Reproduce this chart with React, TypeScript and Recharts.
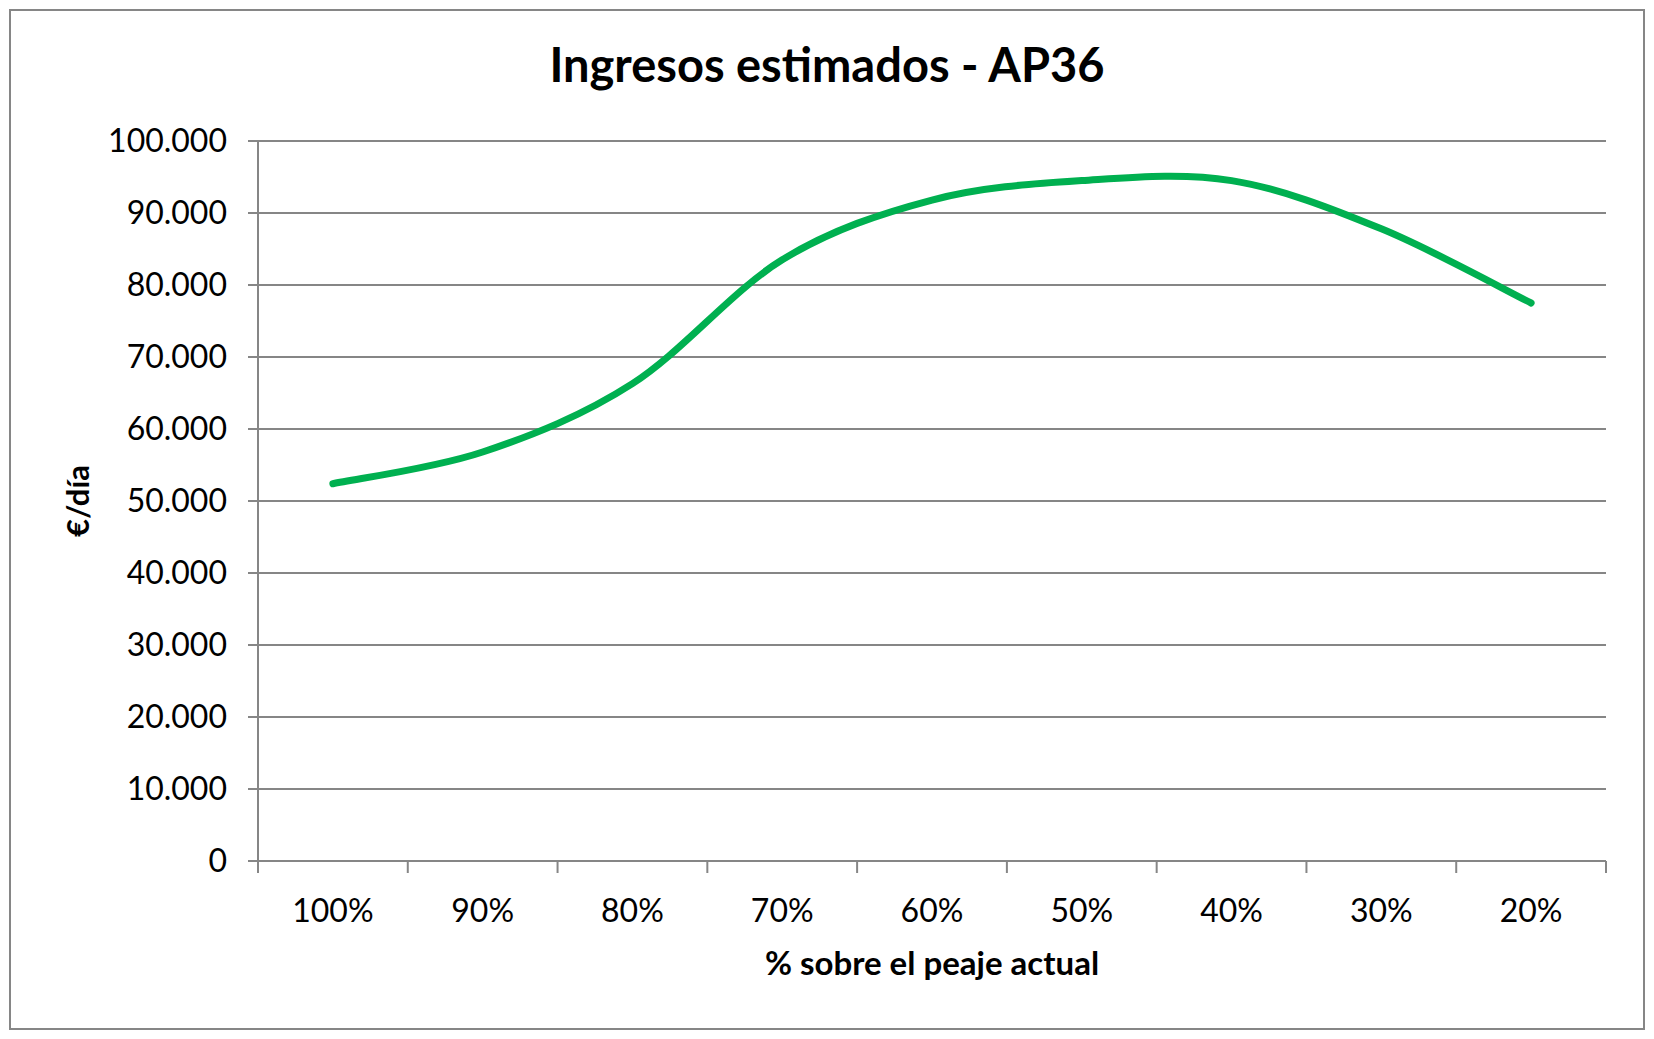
import React from "react";
import {
    CartesianGrid,
    Label,
    Line,
    LineChart,
    XAxis,
    YAxis,
} from "recharts";

const categories = ["100%", "90%", "80%", "70%", "60%", "50%", "40%", "30%", "20%"];
const ingresos = [52400, 56800, 66300, 83500, 91800, 94500, 94500, 87800, 77500];
const yTicks = [0, 10000, 20000, 30000, 40000, 50000, 60000, 70000, 80000, 90000, 100000];

const data = categories.map((cat, i) => ({ cat, v: ingresos[i] }));

const FONT = "Lato, 'Open Sans', sans-serif";
const GRID = "#868686";
const TICK_MARGIN = 38;
const TICK_LEN = 12;

const fmt = (v: number) => String(v).replace(/\B(?=(\d{3})+(?!\d))/g, ".");

/** Excel-style smoothed line (Catmull-Rom as cubic Bezier). */
const excelCurve = (context: any) => {
    let pts: [number, number][] = [];
    return {
        areaStart() {},
        areaEnd() {},
        lineStart() {
            pts = [];
        },
        point(x: number, y: number) {
            pts.push([+x, +y]);
        },
        lineEnd() {
            const n = pts.length;
            if (!n) return;
            context.moveTo(pts[0][0], pts[0][1]);
            for (let i = 0; i < n - 1; i++) {
                const p0 = pts[Math.max(i - 1, 0)];
                const p1 = pts[i];
                const p2 = pts[i + 1];
                const p3 = pts[Math.min(i + 2, n - 1)];
                context.bezierCurveTo(
                    p1[0] + (p2[0] - p0[0]) / 6,
                    p1[1] + (p2[1] - p0[1]) / 6,
                    p2[0] - (p3[0] - p1[0]) / 6,
                    p2[1] - (p3[1] - p1[1]) / 6,
                    p2[0],
                    p2[1]
                );
            }
        },
    };
};

// Category label centred in its band, with Excel-style tick marks on the band edges.
const CategoryTick = (props: any) => {
    const { x, y, payload, index, visibleTicksCount } = props;
    const half = payload?.offset ?? 0;
    const top = y - TICK_MARGIN;
    const isLast = index === (visibleTicksCount ?? categories.length) - 1;
    return (
        <g>
            <line x1={x - half} x2={x - half} y1={top} y2={top + TICK_LEN} stroke={GRID} strokeWidth={2} />
            {isLast && (
                <line x1={x + half} x2={x + half} y1={top} y2={top + TICK_LEN} stroke={GRID} strokeWidth={2} />
            )}
            <text
                x={x}
                y={y}
                dy="0.71em"
                textAnchor="middle"
                style={{ fill: "#000", fontSize: 32, fontFamily: FONT }}
            >
                {payload.value}
            </text>
        </g>
    );
};

export default function App() {
    return (
        <div
            style={{
                position: "absolute",
                left: 0,
                top: 0,
                width: 1654,
                height: 1039,
                background: "#fff",
                fontFamily: FONT,
            }}
        >
            <div
                style={{
                    position: "absolute",
                    left: 9,
                    top: 9,
                    width: 1636,
                    height: 1021,
                    border: `2px solid ${GRID}`,
                    boxSizing: "border-box",
                }}
            />
            <div
                style={{
                    position: "absolute",
                    left: 0,
                    top: 41,
                    width: 1654,
                    textAlign: "center",
                    fontSize: 47,
                    lineHeight: "47px",
                    fontWeight: 700,
                    color: "#000",
                }}
            >
                Ingresos estimados - AP36
            </div>
            <LineChart
                width={1654}
                height={1039}
                data={data}
                margin={{ top: 141, right: 48, bottom: 98, left: 158 }}
                style={{ position: "absolute", left: 0, top: 0 }}
            >
                <CartesianGrid vertical={false} stroke={GRID} strokeWidth={2} />
                <XAxis
                    dataKey="cat"
                    type="category"
                    scale="band"
                    height={80}
                    axisLine={{ stroke: GRID, strokeWidth: 2 }}
                    tickLine={false}
                    tickSize={0}
                    tickMargin={TICK_MARGIN}
                    interval={0}
                    tick={<CategoryTick />}
                >
                    <Label
                        value="% sobre el peaje actual"
                        position="insideBottom"
                        offset={-34}
                        style={{ fill: "#000", fontSize: 33, fontWeight: 700, fontFamily: FONT }}
                    />
                </XAxis>
                <YAxis
                    width={100}
                    domain={[0, 100000]}
                    ticks={yTicks}
                    interval={0}
                    tickFormatter={fmt}
                    tickSize={10}
                    tickMargin={21}
                    axisLine={{ stroke: GRID, strokeWidth: 2 }}
                    tickLine={{ stroke: GRID, strokeWidth: 2 }}
                    tick={{ fill: "#000", fontSize: 32, fontFamily: FONT }}
                >
                    <Label
                        content={({ viewBox }: any) => {
                            const cx = viewBox.x - 81;
                            const cy = viewBox.y + viewBox.height / 2;
                            return (
                                <text
                                    x={cx}
                                    y={cy}
                                    transform={`rotate(-90, ${cx}, ${cy})`}
                                    textAnchor="middle"
                                    dominantBaseline="central"
                                    style={{ fill: "#000", fontSize: 31, fontWeight: 700, fontFamily: FONT }}
                                >
                                    €/día
                                </text>
                            );
                        }}
                    />
                </YAxis>
                <Line
                    dataKey="v"
                    type={excelCurve as any}
                    stroke="#00B050"
                    strokeWidth={7}
                    strokeLinecap="round"
                    dot={false}
                    activeDot={false}
                    isAnimationActive={false}
                />
            </LineChart>
        </div>
    );
}
